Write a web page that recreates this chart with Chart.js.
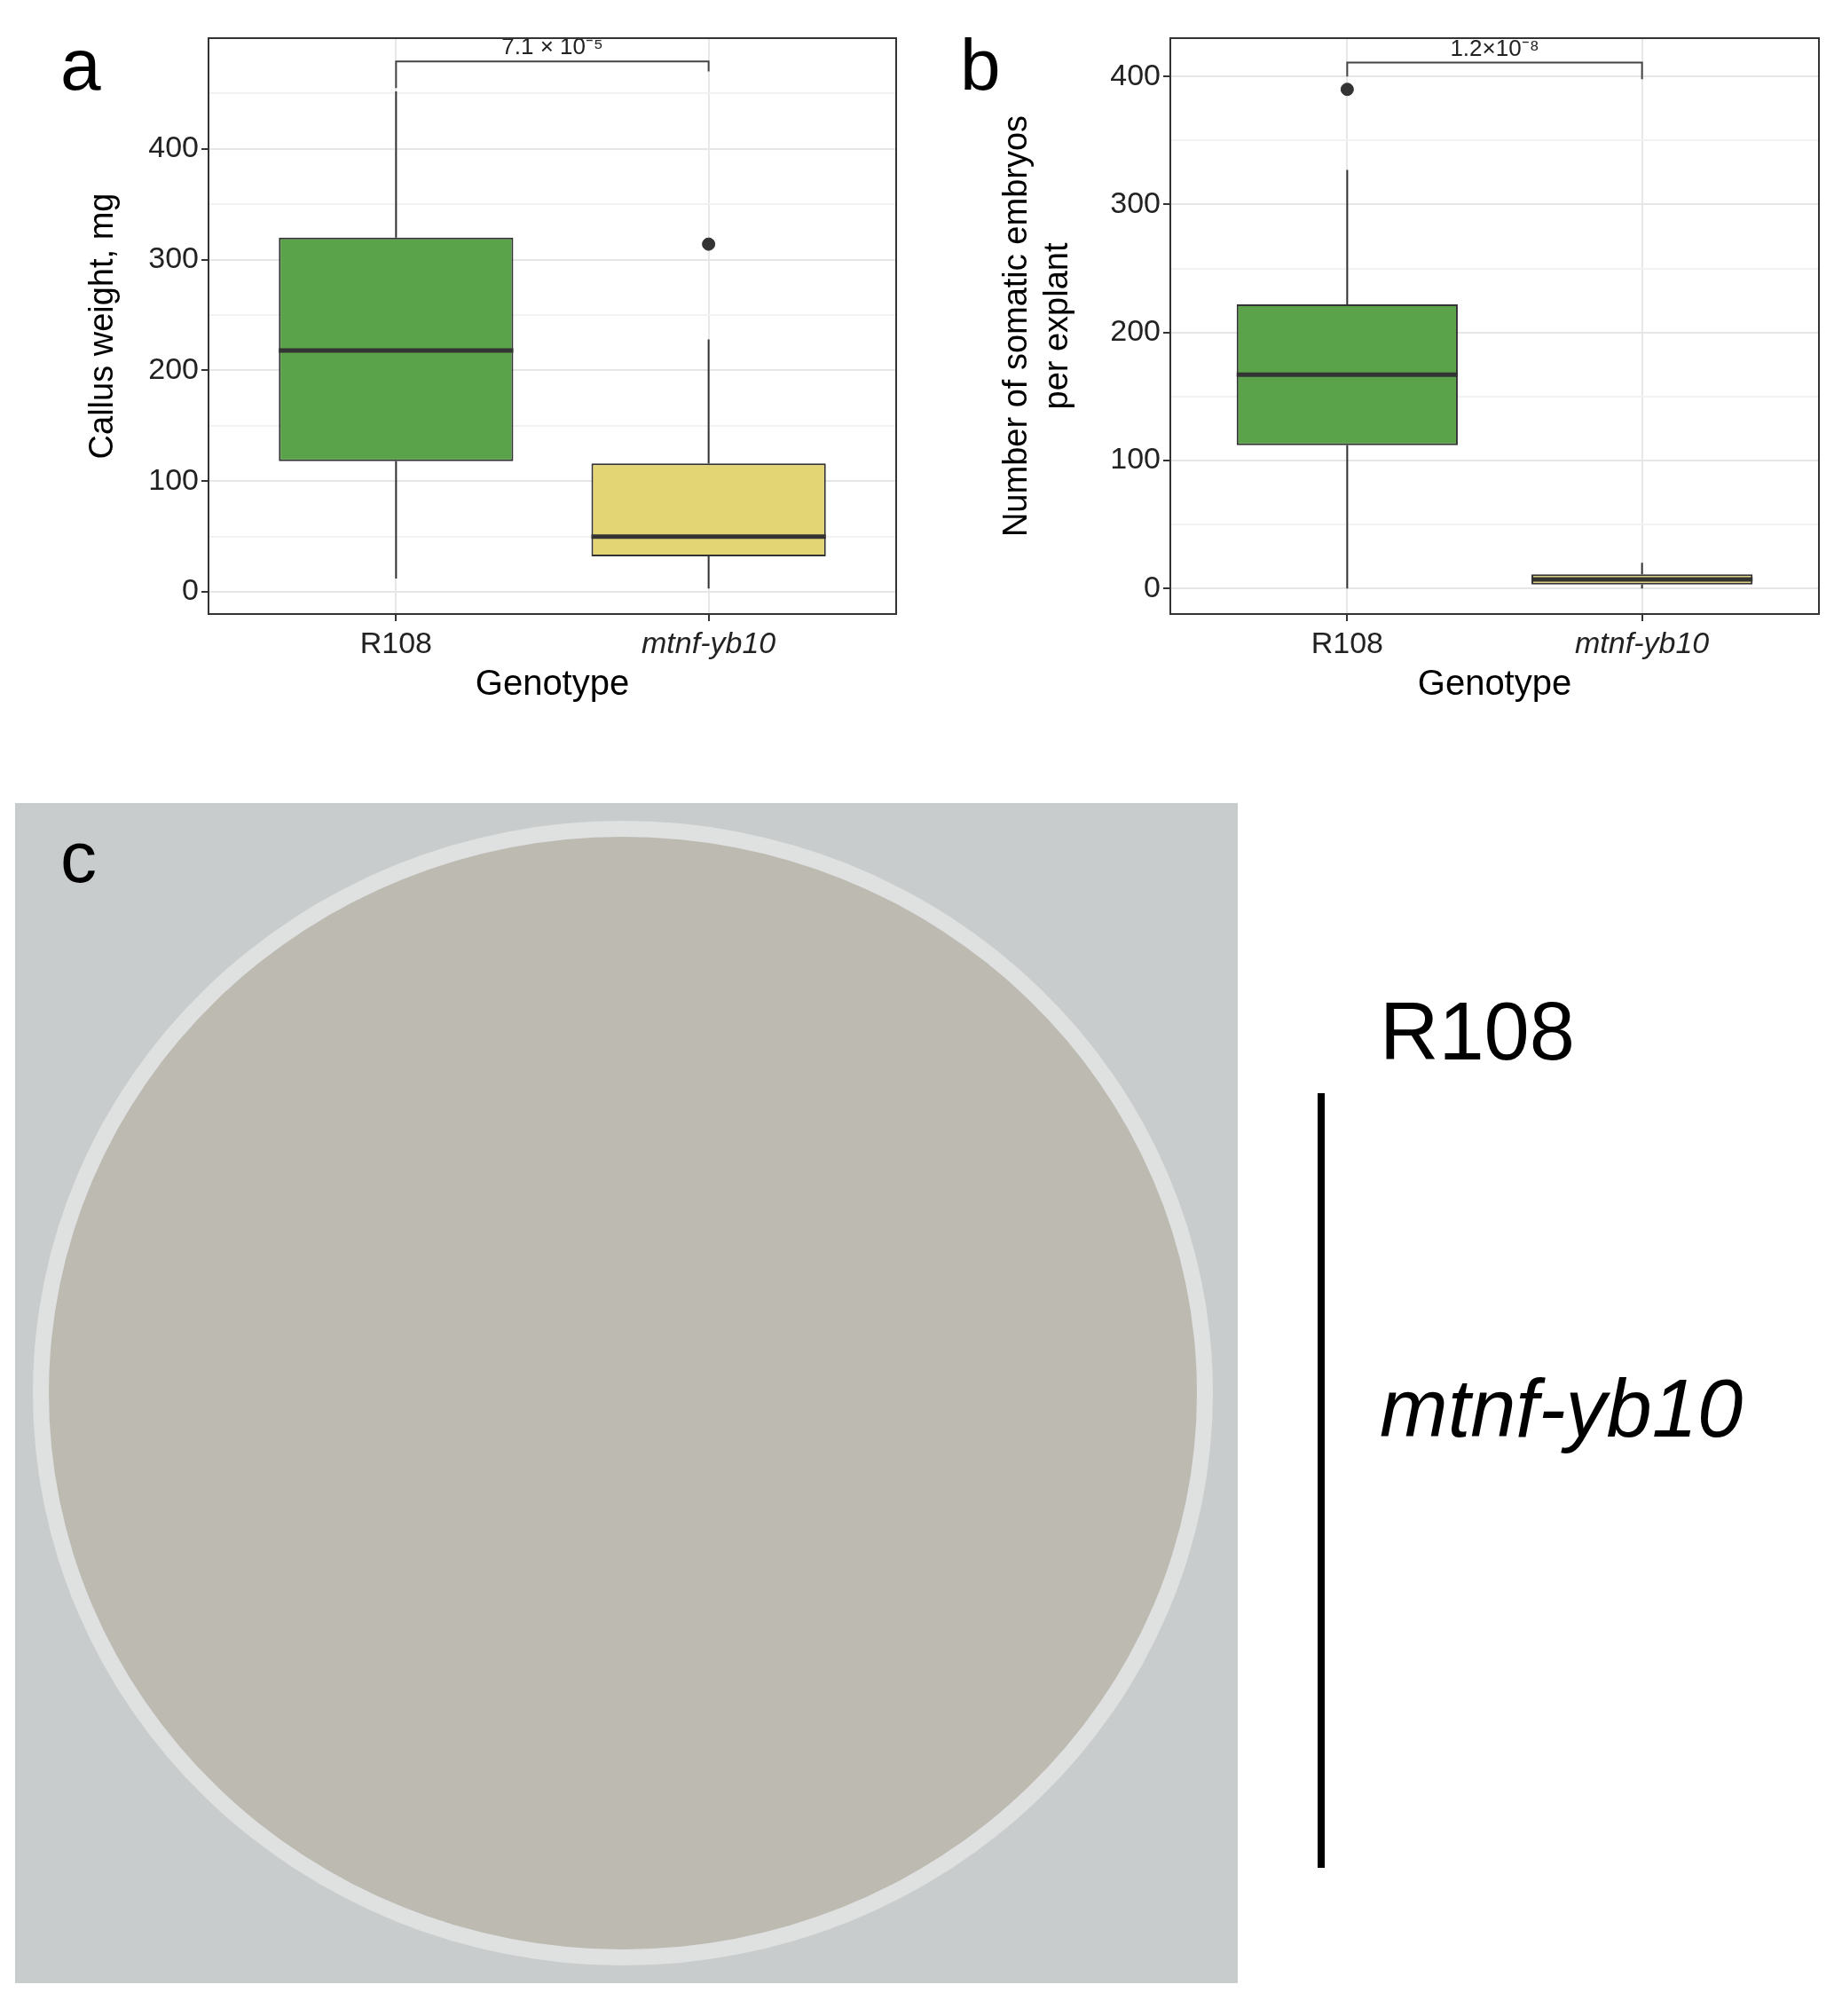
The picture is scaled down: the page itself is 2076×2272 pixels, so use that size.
<!DOCTYPE html>
<html><head><meta charset="utf-8">
<script src="https://cdn.jsdelivr.net/npm/chart.js@4/dist/chart.umd.min.js"></script>
<style>
body{margin:0;background:#fff;width:2076px;height:2272px;position:relative;font-family:"Liberation Sans",Arial,sans-serif;overflow:hidden}
.c{position:absolute}
.lbl{position:absolute;font-size:82px;color:#000;line-height:1}
</style></head><body>
<div class="c" style="left:90px;top:0;width:930px;height:800px"><canvas id="ca"></canvas></div>
<div class="c" style="left:1120px;top:0;width:940px;height:800px"><canvas id="cb"></canvas></div>
<div class="lbl" style="left:68px;top:32px">a</div>
<div class="lbl" style="left:1082px;top:32px">b</div>
<div style="position:absolute;left:17px;top:905px;width:1378px;height:1330px;background:#c9cccd">
 <div style="position:absolute;left:20px;top:20px;width:1330px;height:1290px;border-radius:50%;background:#bdbab2;border:18px solid #dfe0e0;box-sizing:border-box"></div>
</div>
<div class="lbl" style="left:68px;top:925px">c</div>
<div style="position:absolute;left:1555px;top:1110px;font-size:92px">R108</div>
<div style="position:absolute;left:1485px;top:1232px;width:8px;height:873px;background:#000"></div>
<div style="position:absolute;left:1555px;top:1535px;font-size:92px;font-style:italic">mtnf-yb10</div>
<script>
const categories=['R108','mtnf-yb10'];
const colors=['#5BA34A','#E3D574'];
// panel a: callus weight
const aMin=[12,3], aQ1=[118,32], aMed=[218,50], aQ3=[320,116], aMax=[452,228];
const aOut=[[],[314]];
const aP='7.1 × 10⁻⁵';
// panel b: somatic embryos
const bMin=[0,0], bQ1=[112,3], bMed=[167,7], bQ3=[222,11], bMax=[327,20];
const bOut=[[390],[]];
const bP='1.2×10⁻⁸';

function make(id,mn,q1,md,q3,mx,out,p,yr,yw,title,br){
 const boxPlug={id:'bx',
  beforeDatasetsDraw(ch){const c=ch.ctx,x=ch.scales.x,y=ch.scales.y;
   c.save();c.strokeStyle='#333';c.lineWidth=2;
   for(let i=0;i<2;i++){const px=x.getPixelForValue(i+1);
    c.beginPath();c.moveTo(px,y.getPixelForValue(mn[i]));c.lineTo(px,y.getPixelForValue(q1[i]));
    c.moveTo(px,y.getPixelForValue(q3[i]));c.lineTo(px,y.getPixelForValue(mx[i]));c.stroke();}
   c.restore();},
  afterDatasetsDraw(ch){const c=ch.ctx,x=ch.scales.x,y=ch.scales.y,a=ch.chartArea;
   c.save();const m=ch.getDatasetMeta(0);
   for(let i=0;i<2;i++){const bar=m.data[i];const w=bar.width;const px=bar.x;
    c.strokeStyle='#333';c.lineWidth=5;c.beginPath();const py=y.getPixelForValue(md[i]);
    c.moveTo(px-w/2,py);c.lineTo(px+w/2,py);c.stroke();}
   const x1=x.getPixelForValue(1),x2=x.getPixelForValue(2),yb=y.getPixelForValue(br[0]);
   c.lineWidth=2;c.strokeStyle='#444';c.beginPath();
   c.moveTo(x1,y.getPixelForValue(br[1]));c.lineTo(x1,yb);c.lineTo(x2,yb);c.lineTo(x2,y.getPixelForValue(br[2]));c.stroke();
   c.fillStyle='#222';c.font='26px "Liberation Sans"';c.textAlign='center';c.textBaseline='bottom';
   c.fillText(p,(x1+x2)/2,yb-2);
   c.strokeStyle='#333';c.lineWidth=2;c.strokeRect(a.left,a.top,a.right-a.left,a.bottom-a.top);
   c.restore();}};
 const outs=[];out.forEach((o,i)=>o.forEach(v=>outs.push({x:i+1,y:v})));
 new Chart(document.getElementById(id),{
  data:{datasets:[
   {type:'bar',data:categories.map((c,i)=>({x:i+1,y:[q1[i],q3[i]]})),backgroundColor:colors,borderColor:'#333',borderWidth:2,borderSkipped:false,categoryPercentage:1,barPercentage:0.75},
   {type:'scatter',data:outs,pointRadius:7,backgroundColor:'#333',borderColor:'#333'}]},
  options:{responsive:true,maintainAspectRatio:false,animation:false,
   layout:{padding:{top:43,right:10}},
   plugins:{legend:{display:false},tooltip:{enabled:false}},
   scales:{
    x:{type:'linear',min:0.4,max:2.6,offset:false,bounds:'ticks',
     afterBuildTicks(s){s.ticks=[{value:1},{value:2}];},
     afterFit(s){s.height=108;},
     ticks:{callback:v=>categories[v-1],color:'#222',padding:6,autoSkip:false,
      font:ctx=>({family:'Liberation Sans',size:34,style:ctx.tick&&ctx.tick.value===2?'italic':'normal'})},
     grid:{offset:false,color:'#e8e8e8',lineWidth:2,tickLength:8,tickColor:'#333'},border:{display:false},
     title:{display:true,text:'Genotype',color:'#000',font:{family:'Liberation Sans',size:40},padding:{top:0}}},
    y:{min:yr[0],max:yr[1],
     afterBuildTicks(s){const t=[];for(let v=0;v<yr[1]-20;v+=50)t.push({value:v});s.ticks=t;},
     afterFit(s){s.width=yw;},
     ticks:{callback:v=>v%100===0?v:'',color:'#222',font:{family:'Liberation Sans',size:34}},
     grid:{color:c=>c.tick&&c.tick.value%100===0?'#e6e6e6':'#f2f2f2',lineWidth:2,tickLength:8,
      tickColor:c=>c.tick&&c.tick.value%100===0?'#333':'rgba(0,0,0,0)'},border:{display:false},
     title:{display:true,text:title,color:'#000',font:{family:'Liberation Sans',size:38},padding:{bottom:4}}}}},
  plugins:[boxPlug]});
}
make('ca',aMin,aQ1,aMed,aQ3,aMax,aOut,aP,[-20,500],145,'Callus weight, mg',[479,455,470]);
make('cb',bMin,bQ1,bMed,bQ3,bMax,bOut,bP,[-20,430],199,['Number of somatic embryos','per explant'],[411,400,398]);
</script></body></html>
